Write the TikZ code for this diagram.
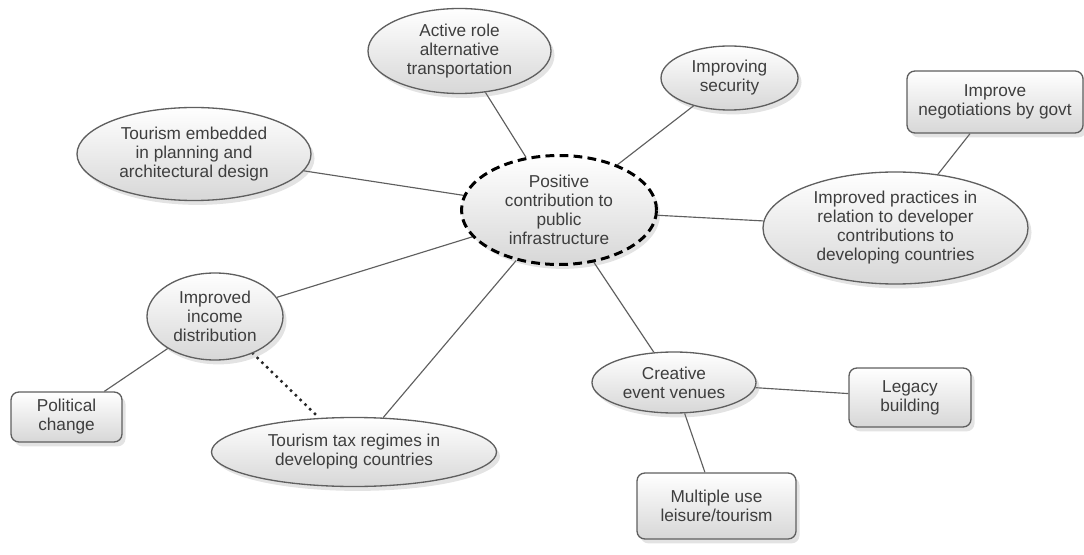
\documentclass[tikz,border=0pt]{standalone}
\usepackage{fontspec}
\setmainfont{Liberation Sans}
\usepackage{tikz}
\usetikzlibrary{shapes.geometric,shadows,backgrounds}
\definecolor{mapText}{RGB}{62,62,62}
\definecolor{mapEdge}{RGB}{95,95,95}
\definecolor{mapFill}{RGB}{215,215,215}
\definecolor{mapLine}{RGB}{95,95,95}

\tikzset{
  mapbase/.style={draw=mapEdge,line width=0.75pt,top color=white,bottom color=mapFill,
                  text=mapText,align=center,inner sep=0pt,
                  font=\fontsize{9.8}{10.8}\selectfont,
                  drop shadow={opacity=0.22,shadow xshift=2pt,shadow yshift=-2.5pt}},
  idea/.style={mapbase,ellipse},
  action/.style={mapbase,rectangle,rounded corners=4.5pt},
  link/.style={mapLine,line width=0.65pt},
}

\begin{document}
\begin{tikzpicture}
        \useasboundingbox (0,0) rectangle (21.68,11.08);

        % Centro
        \node[idea,draw=black,line width=1.7pt,dash pattern=on 5pt off 3pt,
              minimum width=3.9cm,minimum height=2.18cm] (centre) at (11.18,6.88)
              {Positive\\contribution to\\public\\infrastructure};

        % Ramos de cima
        \node[idea,minimum width=3.66cm,minimum height=1.70cm] (active) at (9.19,10.06)
              {Active role\\alternative\\transportation};
        \node[idea,minimum width=2.74cm,minimum height=1.28cm] (security) at (14.59,9.52)
              {Improving\\security};
        \node[idea,minimum width=4.68cm,minimum height=1.86cm] (embedded) at (3.88,8.00)
              {Tourism embedded\\in planning and\\architectural design};

        % Ramo da direita
        \node[idea,minimum width=5.30cm,minimum height=2.24cm] (practices) at (17.91,6.52)
              {Improved practices in\\relation to developer\\contributions to\\developing countries};
        \node[action,minimum width=3.52cm,minimum height=1.24cm] (govt) at (19.90,9.04)
              {Improve\\negotiations by govt};

        % Ramos da esquerda
        \node[idea,minimum width=2.72cm,minimum height=1.74cm] (income) at (4.30,4.75)
              {Improved\\income\\distribution};
        \node[action,minimum width=2.22cm,minimum height=1.00cm] (political) at (1.33,2.74)
              {Political\\change};
        \node[idea,minimum width=5.70cm,minimum height=1.38cm] (tax) at (7.08,2.04)
              {Tourism tax regimes in\\developing countries};

        % Ramo de baixo
        \node[idea,minimum width=3.28cm,minimum height=1.22cm] (venues) at (13.48,3.43)
              {Creative\\event venues};
        \node[action,minimum width=2.44cm,minimum height=1.18cm] (legacy) at (18.20,3.13)
              {Legacy\\building};
        \node[action,minimum width=3.18cm,minimum height=1.32cm] (multiuse) at (14.33,0.96)
              {Multiple use\\leisure/tourism};

        % Ligacoes
        \begin{scope}[on background layer]
          \foreach \n in {active,security,embedded,practices,income,tax,venues}{
            \draw[link] (centre) -- (\n);
          }
          \draw[link] (practices) -- (govt);
          \draw[link] (income) -- (political);
          \draw[link] (venues) -- (legacy);
          \draw[link] (venues) -- (multiuse);
          \draw[black!85,line width=2pt,line cap=round,dash pattern=on 0pt off 3.8pt]
                (income) -- (tax);
        \end{scope}
      \end{tikzpicture}
\end{document}
